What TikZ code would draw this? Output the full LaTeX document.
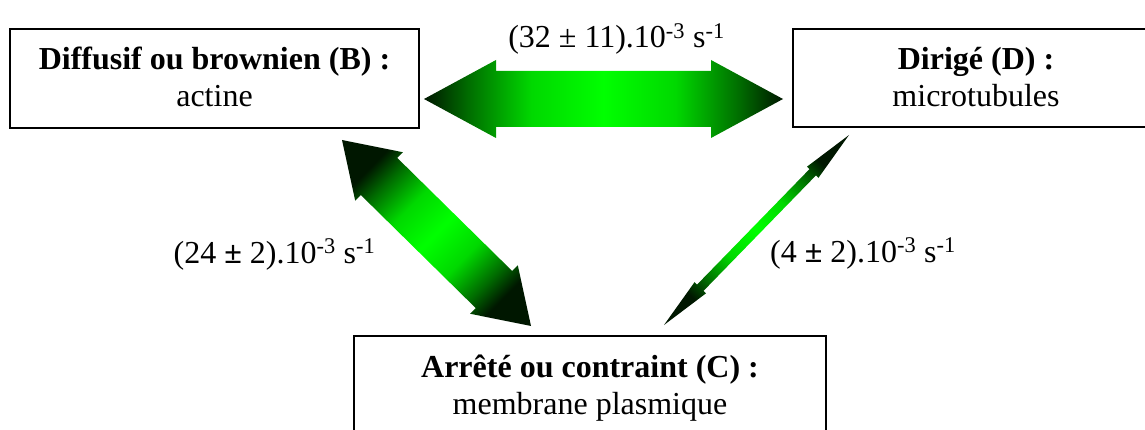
\documentclass[tikz,border=0pt]{standalone}
\usepackage{fontspec}
\setmainfont{Liberation Serif}
\usetikzlibrary{calc}
\pgfdeclarehorizontalshading{greenarrow}{100bp}{%
  rgb(0bp)=(0,0.09,0); rgb(25bp)=(0,0.09,0);
  rgb(31bp)=(0,0.42,0); rgb(40bp)=(0,0.85,0);
  rgb(50bp)=(0,1,0);
  rgb(60bp)=(0,0.85,0); rgb(69bp)=(0,0.42,0);
  rgb(75bp)=(0,0.09,0); rgb(100bp)=(0,0.09,0)}
% #1 start, #2 end, #3 head length, #4 head half width, #5 shaft half width
\newcommand{\blockarrow}[5]{%
  \pgfmathanglebetweenpoints{\pgfpointanchor{#1}{center}}{\pgfpointanchor{#2}{center}}%
  \pgfmathsetmacro{\bkang}{\pgfmathresult}%
  \shade[shading=greenarrow, shading angle=\bkang]
    (#1) -- ($(#1)!#3!(#2)!#4!90:(#2)$) -- ($(#1)!#3!(#2)!#5!90:(#2)$)
    -- ($(#2)!#3!(#1)!#5!-90:(#1)$) -- ($(#2)!#3!(#1)!#4!-90:(#1)$) -- (#2)
    -- ($(#2)!#3!(#1)!#4!90:(#1)$) -- ($(#2)!#3!(#1)!#5!90:(#1)$)
    -- ($(#1)!#3!(#2)!#5!-90:(#2)$) -- ($(#1)!#3!(#2)!#4!-90:(#2)$) -- cycle;}
\begin{document}
\begin{tikzpicture}[x=1pt,y=-1pt,
  box/.style={draw, line width=1.6pt, inner sep=0pt},
  txt/.style={font=\fontsize{32}{36}\selectfont, anchor=base, inner sep=0pt}]
\useasboundingbox (0,0) rectangle (1145,430);
\clip (0,0) rectangle (1145,430);
% boxes
\node[box, minimum width=409pt, minimum height=99pt] (B) at (214.5,78.5) {};
\node[box, minimum width=366pt, minimum height=98pt] (D) at (976,78) {};
\node[box, minimum width=472pt, minimum height=140pt] (C) at (590,406) {};
% box texts
\node[txt] (B1) at (214.5,70) {\bfseries Diffusif ou brownien (B) :};
\node[txt] (B2) at (214.5,107) {actine};
\node[txt] (D1) at (976,70) {\bfseries Dirigé (D) :};
\node[txt] (D2) at (976,107) {microtubules};
\node[txt] (C1) at (590,377) {\bfseries Arrêté ou contraint (C) :};
\node[txt] (C2) at (590,414) {membrane plasmique};
% arrow end points
\coordinate (t1) at (424,99);
\coordinate (t2) at (783,99);
\coordinate (l1) at (342,140);
\coordinate (l2) at (531,326);
\coordinate (r1) at (849,135);
\coordinate (r2) at (664,325);
% arrows
\blockarrow{t1}{t2}{72pt}{39pt}{28pt}
\blockarrow{l1}{l2}{52pt}{34pt}{26pt}
\blockarrow{r1}{r2}{52pt}{8pt}{4.5pt}
% rate labels
\node[txt] (kBD) at (616.5,48) {(32 ± 11).10\textsuperscript{-3} s\textsuperscript{-1}};
\node[txt] (kBC) at (274.5,263) {(24 \textbf{±} 2).10\textsuperscript{-3} s\textsuperscript{-1}};
\node[txt] (kDC) at (863,262) {(4 \textbf{±} 2).10\textsuperscript{-3} s\textsuperscript{-1}};
\end{tikzpicture}
\end{document}
